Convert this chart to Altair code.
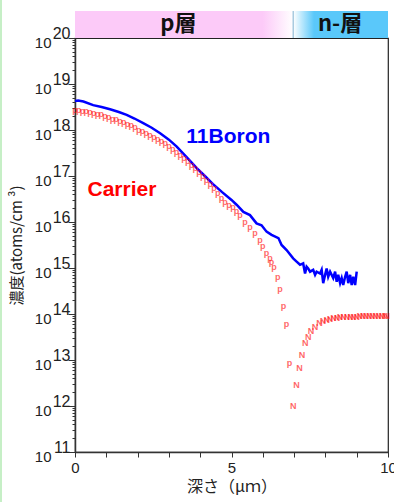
import altair as alt
import pandas as pd
import numpy as np

# ---- data (depth in um, log10 concentration) ----
boron_depth = [0.00, 0.10, 0.27, 0.58, 0.85, 1.12, 1.40, 1.65, 1.90, 2.18, 2.45, 2.72, 3.00, 3.25,
               3.55, 3.89, 4.15, 4.40, 4.70, 5.00, 5.17, 5.38, 5.59, 5.80, 5.96, 6.12, 6.28, 6.50,
               6.60, 6.76, 6.97, 7.08, 7.19, 7.29, 7.35, 7.40, 7.45, 7.51, 7.61, 7.67, 7.72, 7.83,
               7.88, 7.93, 7.99, 8.04, 8.09, 8.15, 8.25, 8.31, 8.36, 8.41, 8.47, 8.52, 8.57, 8.63,
               8.68, 8.73, 8.79, 8.84, 8.89, 8.95, 9.00]
boron_log = [18.63, 18.64, 18.62, 18.54, 18.50, 18.45, 18.39, 18.33, 18.25, 18.15, 18.05, 17.93, 17.79, 17.64,
             17.42, 17.17, 17.00, 16.83, 16.65, 16.48, 16.37, 16.22, 16.15, 15.97, 15.93, 15.79, 15.72, 15.65,
             15.50, 15.39, 15.21, 15.14, 15.07, 15.10, 14.88, 15.03, 14.99, 14.92, 14.96, 14.85, 14.92, 14.88,
             14.96, 14.67, 14.85, 14.99, 14.81, 14.92, 14.78, 14.92, 14.70, 14.85, 14.67, 14.78, 14.63, 14.81,
             14.92, 14.67, 14.85, 14.63, 14.81, 14.63, 14.92]

carrier_p_depth = [0.00, 0.12, 0.24, 0.36, 0.48, 0.60, 0.72, 0.84, 0.96, 1.08, 1.20, 1.32, 1.44, 1.56,
                   1.68, 1.80, 1.92, 2.04, 2.16, 2.28, 2.40, 2.52, 2.64, 2.76, 2.88, 3.00, 3.12, 3.24,
                   3.36, 3.48, 3.60, 3.72, 3.84, 3.96, 4.08, 4.20, 4.32, 4.44, 4.56, 4.68, 4.79, 4.92,
                   5.05, 5.16, 5.27, 5.43, 5.59, 5.75, 5.91, 6.00, 6.12, 6.23, 6.28, 6.36, 6.48, 6.55,
                   6.66, 6.76, 6.85]
carrier_p_log = [18.43, 18.43, 18.42, 18.41, 18.39, 18.37, 18.35, 18.34, 18.31, 18.28, 18.25, 18.23, 18.20, 18.17,
                 18.14, 18.10, 18.06, 18.01, 17.97, 17.93, 17.89, 17.85, 17.81, 17.76, 17.71, 17.65, 17.59, 17.53,
                 17.46, 17.39, 17.32, 17.25, 17.17, 17.09, 17.01, 16.92, 16.83, 16.73, 16.63, 16.53, 16.44, 16.38,
                 16.33, 16.24, 16.15, 16.01, 15.90, 15.76, 15.61, 15.47, 15.33, 15.22, 15.14, 15.03, 14.80, 14.54,
                 14.17, 13.78, 12.93]
carrier_n_depth = [6.97, 7.08, 7.17, 7.25, 7.36, 7.45, 7.54, 7.67, 7.81, 7.92, 8.04, 8.15, 8.26, 8.37,
                   8.47, 8.58, 8.69, 8.80, 8.90, 9.00, 9.10, 9.20, 9.30, 9.40, 9.50, 9.60, 9.70, 9.80,
                   9.90, 9.96]
carrier_n_log = [12.00, 12.46, 12.82, 13.11, 13.36, 13.49, 13.62, 13.72, 13.81, 13.84, 13.88, 13.90, 13.91, 13.92,
                 13.93, 13.93, 13.94, 13.94, 13.94, 13.94, 13.95, 13.95, 13.95, 13.95, 13.95, 13.96, 13.96, 13.96,
                 13.96, 13.96]

decades = list(range(11, 21))
x_ticks = list(range(0, 11))
layer_names = ["p層", "n-層"]
layer_start = [0.0, 6.97]
layer_end = [6.97, 10.0]
layer_center = [3.3, 8.47]
junction = [6.97]

boron = pd.DataFrame({"depth": boron_depth, "logc": boron_log})
carrier = pd.DataFrame({
    "depth": carrier_p_depth + carrier_n_depth,
    "logc": carrier_p_log + carrier_n_log,
    "sym": ["p"] * len(carrier_p_depth) + ["N"] * len(carrier_n_depth),
})
minor = pd.DataFrame({"v": [d + np.log10(k) for d in decades[:-1] for k in range(2, 10)]})

XS = alt.Scale(domain=[0, 10], nice=False, zero=False)
YS = alt.Scale(domain=[11, 20], nice=False, zero=False)
LBL = "Liberation Sans"
CJK = "Noto Sans CJK JP"

x_axis = alt.Axis(values=x_ticks, labelExpr="datum.value % 5 == 0 ? datum.label : ''",
                  tickSize=5, labelFontSize=15, labelFont=LBL, labelColor="#222",
                  labelPadding=3, labelFlush=False, grid=False, title="深さ（μｍ）", titleFont=CJK,
                  titleFontSize=16, titleFontWeight="normal", titleColor="#222",
                  titlePadding=3, domainColor="#333", domainWidth=1.5, tickColor="#333")


def xenc(field="depth"):
    return alt.X(f"{field}:Q", scale=XS, axis=x_axis)


# top band
pink = alt.Chart(pd.DataFrame({"a": [layer_start[0]], "b": [layer_end[0]]})).mark_rect(
    color=alt.Gradient(gradient="linear", x1=0, x2=1, y1=0, y2=0,
                       stops=[alt.GradientStop(color="#fccaf8", offset=0),
                              alt.GradientStop(color="#fccaf8", offset=0.86),
                              alt.GradientStop(color="#ffffff", offset=1)])
).encode(x=alt.X("a:Q", scale=XS, axis=x_axis), x2="b:Q", y=alt.value(-27), y2=alt.value(0))

cyan = alt.Chart(pd.DataFrame({"a": [layer_start[1]], "b": [layer_end[1]]})).mark_rect(
    color=alt.Gradient(gradient="linear", x1=0, x2=1, y1=0, y2=0,
                       stops=[alt.GradientStop(color="#ffffff", offset=0),
                              alt.GradientStop(color="#5ac8fa", offset=0.22),
                              alt.GradientStop(color="#5ac8fa", offset=1)])
).encode(x=alt.X("a:Q", scale=XS, axis=x_axis), x2="b:Q", y=alt.value(-27), y2=alt.value(0))

sep = alt.Chart(pd.DataFrame({"j": junction})).mark_rule(color="#7fb0d0", strokeWidth=1).encode(
    x=alt.X("j:Q", scale=XS, axis=x_axis), y=alt.value(-27), y2=alt.value(0))

band_text = alt.Chart(pd.DataFrame({"c": layer_center, "t": layer_names})).mark_text(
    font=CJK, fontSize=22, fontWeight="bold", color="#111", baseline="middle"
).encode(x=alt.X("c:Q", scale=XS, axis=x_axis), y=alt.value(-14), text="t:N")

green = alt.Chart(pd.DataFrame({"g": [0]})).mark_rule(color="#c6efc6", strokeWidth=2).encode(
    x=alt.value(-74), y=alt.value(-38), y2=alt.value(464))

# boron line, carries the "10" labels + major ticks
blue = alt.Chart(boron).mark_line(color="#0000ff", strokeWidth=2.5).encode(
    x=xenc(),
    y=alt.Y("logc:Q", scale=YS, axis=alt.Axis(
        orient="left",
        values=decades, labelExpr="'10'", tickSize=7, labelPadding=17, labelFont=LBL,
        labelFontSize=15, labelColor="#222", labelBaseline="middle", labelOffset=4, grid=False,
        labelFlush=False, domainColor="#333", domainWidth=1.5, tickColor="#333",
        title="濃度(atoms/cm ³)", titleFont=CJK, titleFontSize=15, titleFontWeight="normal",
        titleColor="#222", titlePadding=10)),
)

# carrier symbols, carries the exponent labels
red = alt.Chart(carrier).mark_text(font=LBL, fontSize=9, color="#ff0000", opacity=0.6,
                                   fontWeight="bold").encode(
    x=xenc(),
    y=alt.Y("logc:Q", scale=YS, axis=alt.Axis(
        orient="left",
        values=decades, labelExpr="datum.value", tickSize=0, domain=False, labelPadding=5,
        labelFont=LBL, labelFontSize=16, labelColor="#222", labelAlign="right",
        labelBaseline="middle", labelOffset=-5, labelFlush=False, grid=False, title=None)),
    text="sym:N",
)

# minor ticks
minor_layer = alt.Chart(minor).mark_point(opacity=0).encode(
    x=alt.value(0),
    y=alt.Y("v:Q", scale=YS, axis=alt.Axis(
        orient="left",
        values=minor["v"].tolist(), labels=False, tickSize=3, domain=False, grid=False,
        tickColor="#333", title=None)),
)

ann = alt.Chart(pd.DataFrame({"d": [4.9, 1.5], "l": [17.85, 16.7], "t": ["11Boron", "Carrier"],
                              "k": ["b", "c"]})).mark_text(
    font=LBL, fontSize=21, fontWeight="bold", baseline="middle"
).encode(
    x=xenc("d"),
    y=alt.Y("l:Q", scale=YS, axis=None),
    text="t:N",
    color=alt.Color("k:N", scale=alt.Scale(domain=["b", "c"], range=["#0000ff", "#ff0000"]),
                    legend=None),
)

chart = alt.layer(green, pink, cyan, sep, band_text, blue, red, minor_layer, ann).resolve_axis(
    y="independent"
).properties(
    width=313, height=414,
    autosize=alt.AutoSizeParams(type="none"),
    padding={"left": 75, "top": 38, "right": 6, "bottom": 50},
    background="white",
).configure_view(stroke="#222", strokeWidth=1.2)

chart.save("out.html", embed_options={"renderer": "svg", "actions": False})
